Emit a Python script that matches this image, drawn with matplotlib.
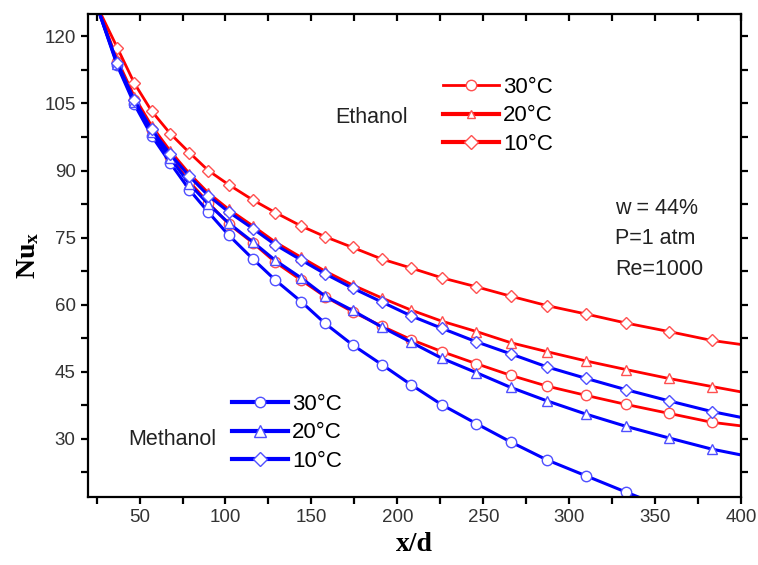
import matplotlib
matplotlib.use("Agg")
import matplotlib.pyplot as plt
from matplotlib.lines import Line2D
from matplotlib.ticker import MultipleLocator

# x/d positions (first and last points carry no marker)
xd = [25, 37, 47, 57, 68, 79, 90, 102, 116, 129, 144, 158, 174, 191,
      208, 226, 246, 266, 287, 310, 333, 358, 383, 400]

eth_30 = [127, 114.2, 105.8, 99.0, 93.0, 87.5, 82.8, 78.0, 73.8, 69.5, 65.5,
          61.8, 58.4, 55.2, 52.2, 49.5, 46.8, 44.2, 41.8, 39.7, 37.7, 35.7,
          33.7, 32.9]
eth_20 = [127, 114.8, 106.5, 100.0, 94.3, 89.3, 85.0, 81.3, 77.6, 74.0,
          70.6, 67.5, 64.4, 61.5, 58.8, 56.3, 54.0, 51.5, 49.5, 47.4, 45.5,
          43.5, 41.7, 40.5]
eth_10 = [127, 117.5, 109.5, 103.3, 98.2, 94.0, 90.0, 86.8, 83.4, 80.6,
          77.6, 75.2, 72.8, 70.2, 68.2, 66.0, 64.0, 61.9, 59.8, 57.9, 55.9,
          54.0, 52.0, 51.1]
met_30 = [127, 113.5, 104.8, 97.8, 91.6, 85.7, 80.7, 75.5, 70.2, 65.5, 60.7,
          55.8, 51.0, 46.6, 42.1, 37.6, 33.4, 29.3, 25.3, 21.7, 18.1, 14.3,
          10.6, 8.0]
met_20 = [127, 113.8, 105.3, 98.6, 92.7, 87.0, 82.5, 78.2, 74.0, 69.9, 66.0,
          61.9, 58.7, 55.0, 51.6, 48.0, 44.8, 41.5, 38.5, 35.5, 32.8, 30.2,
          27.7, 26.4]
met_10 = [127, 114.1, 105.7, 99.2, 93.6, 88.7, 84.4, 80.7, 77.0, 73.4, 70.0,
          66.9, 63.7, 60.6, 57.5, 54.7, 51.7, 49.0, 46.1, 43.5, 41.0, 38.5,
          36.1, 34.8]

temps = ["30°C", "20°C", "10°C"]
markers = ["o", "^", "D"]
msizes = [7.5, 7.5, 6.5]

RED = "#ff0000"
BLUE = "#0000ff"
RED_EDGE = "#ff5050"
BLUE_EDGE = "#5050ff"

plt.rcParams["mathtext.fontset"] = "custom"
plt.rcParams["mathtext.bf"] = "Liberation Serif:bold"
plt.rcParams["mathtext.rm"] = "Liberation Serif"

fig = plt.figure(figsize=(7.58, 5.65), dpi=100)
ax = fig.add_axes([0.1161, 0.1204, 0.8615, 0.8548])

mark_idx = list(range(1, len(xd) - 1))

for ys, m, ms in zip([eth_30, eth_20, eth_10], markers, msizes):
    ax.plot(xd, ys, color=RED, lw=2.0, marker=m, ms=ms, mfc="white",
            mec=RED_EDGE, mew=1.0, markevery=mark_idx)
for ys, m, ms in zip([met_30, met_20, met_10], markers, msizes):
    ax.plot(xd, ys, color=BLUE, lw=2.2, marker=m, ms=ms, mfc="white",
            mec=BLUE_EDGE, mew=1.0, markevery=mark_idx)

ax.set_xlim(20, 400)
ax.set_ylim(17, 125)

ax.xaxis.set_major_locator(MultipleLocator(50))
ax.xaxis.set_minor_locator(MultipleLocator(25))
ax.yaxis.set_major_locator(MultipleLocator(15))
ax.yaxis.set_minor_locator(MultipleLocator(7.5))

for s in ax.spines.values():
    s.set_linewidth(1.6)

ax.tick_params(which="both", direction="out", length=5, width=1.6,
               labelsize=13.5, labelcolor="#333333", pad=4)
ax.tick_params(which="both", top=True, right=True)
# top/right ticks point inward
for t in ax.xaxis.get_major_ticks() + ax.xaxis.get_minor_ticks():
    t.tick2line.set_marker(3)
for t in ax.yaxis.get_major_ticks() + ax.yaxis.get_minor_ticks():
    t.tick2line.set_marker(1)
for lbl in ax.get_xticklabels() + ax.get_yticklabels():
    lbl.set_family("Liberation Sans")

ax.set_xlabel("x/d", family="Liberation Serif", fontweight="bold",
              fontsize=20, labelpad=4)
ax.set_ylabel(r"$\mathbf{Nu_x}$", fontsize=20, labelpad=2)

txt = dict(family="Liberation Sans", fontsize=15.5, color="#222222",
           va="center", transform=ax.transAxes)
leg_kw = dict(loc="center left", frameon=False, handlelength=2.5,
              handletextpad=0.2, labelspacing=0.33, borderpad=0,
              borderaxespad=0, prop={"family": "Liberation Sans", "size": 16})

# ethanol legend
eth_handles = [Line2D([], [], color=RED, lw=w, marker=m, ms=ms, mfc="white",
                      mec=RED_EDGE, mew=1.0)
               for m, ms, w in zip(markers, [7.5, 6.0, 7.0], [2.0, 3.0, 3.0])]
leg1 = ax.legend(eth_handles, temps, bbox_to_anchor=(0.544, 0.789), **leg_kw)
ax.add_artist(leg1)

met_handles = [Line2D([], [], color=BLUE, lw=3.0, marker=m, ms=ms,
                      mfc="white", mec=BLUE_EDGE, mew=1.0)
               for m, ms in zip(markers, [7.5, 8.0, 7.0])]
leg2 = ax.legend(met_handles, temps, bbox_to_anchor=(0.2205, 0.1325),
                 **leg_kw)

ax.text(0.378, 0.785, "Ethanol", **txt)
ax.text(0.061, 0.118, "Methanol", **txt)

ax.text(0.807, 0.598, "w = 44%", **txt)
ax.text(0.807, 0.536, "P=1 atm", **txt)
ax.text(0.807, 0.470, "Re=1000", **txt)

fig.savefig("out.png", dpi=100)
